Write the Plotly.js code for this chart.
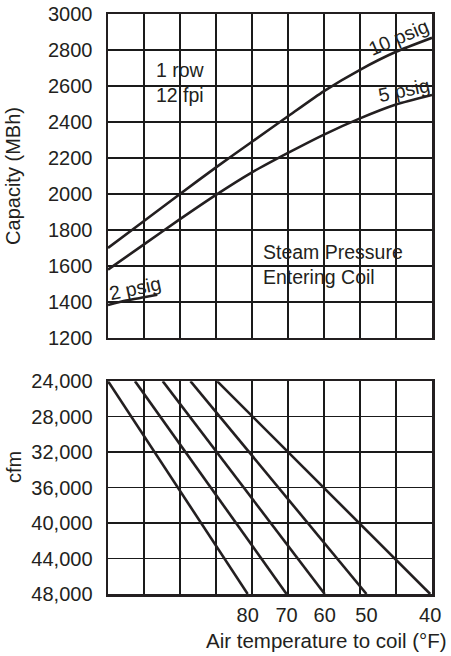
<!DOCTYPE html>
<html>
<head>
<meta charset="utf-8">
<script src="https://cdn.plot.ly/plotly-3.0.1.min.js"></script>
<style>
html,body{margin:0;padding:0;background:#fff;}
#chart{width:451px;height:656px;}
</style>
</head>
<body>
<div id="chart"></div>
<script>
// ---- Top chart: capacity vs. (unlabelled) coil index ----
const gridX = [0, 1, 2, 3, 4, 5, 6, 7, 8, 9];
const cap10psig = [1700, 1850, 2000, 2148, 2290, 2432, 2572, 2690, 2790, 2868];
const cap5psig = [1580, 1720, 1860, 1995, 2120, 2228, 2330, 2420, 2497, 2550];
const cap2psigX = [0, 0.5, 1, 1.37];
const cap2psig = [1383, 1408, 1426, 1440];

// ---- Bottom chart: cfm vs. air temperature lines ----
const tempLabels = ['80', '70', '60', '50', '40'];
const tempStartX = [0, 0.75, 1.52, 2.29, 3.03];
const tempEndX = [3.88, 4.96, 6.02, 7.18, 8.95];
const cfmRange = [24000, 48000];
const cfmTicks = [24000, 28000, 32000, 36000, 40000, 44000, 48000];
const capTicks = [1200, 1400, 1600, 1800, 2000, 2200, 2400, 2600, 2800, 3000];

const ink = '#231f20';
const fontFam = '"Liberation Sans", Arial, Helvetica, sans-serif';
const lineStyle = {color: ink, width: 2.6, shape: 'spline', smoothing: 0.6};

const traces = [
  {x: gridX, y: cap10psig, mode: 'lines', line: lineStyle, xaxis: 'x', yaxis: 'y', hoverinfo: 'skip', name: '10 psig'},
  {x: gridX, y: cap5psig, mode: 'lines', line: lineStyle, xaxis: 'x', yaxis: 'y', hoverinfo: 'skip', name: '5 psig'},
  {x: cap2psigX, y: cap2psig, mode: 'lines', line: lineStyle, xaxis: 'x', yaxis: 'y', hoverinfo: 'skip', name: '2 psig'}
];
tempLabels.forEach((t, i) => {
  traces.push({
    x: [tempStartX[i], tempEndX[i]], y: cfmRange, mode: 'lines',
    line: {color: ink, width: 2.6}, xaxis: 'x2', yaxis: 'y2', hoverinfo: 'skip', name: t + ' °F'
  });
});

const gridCol = '#1a1a1a';
const axBase = {
  showline: true, mirror: true, linecolor: ink, linewidth: 2.5,
  gridcolor: gridCol, gridwidth: 1.6, zeroline: false, fixedrange: true,
  tickfont: {family: fontFam, size: 20, color: ink}
};

const layout = {
  width: 451, height: 656,
  margin: {l: 108, r: 19, t: 14, b: 62},
  paper_bgcolor: '#fff', plot_bgcolor: '#fff',
  showlegend: false,
  font: {family: fontFam, size: 20, color: ink},
  xaxis: Object.assign({}, axBase, {
    domain: [0, 1], anchor: 'y', range: [0, 9], dtick: 1, tick0: 0,
    showticklabels: false, ticks: ''
  }),
  yaxis: Object.assign({}, axBase, {
    domain: [0.4414, 1], anchor: 'x', range: [1200, 3000],
    tickmode: 'array', tickvals: capTicks, ticks: '', ticklabelstandoff: 9,
    title: {text: 'Capacity (MBh)', font: {family: fontFam, size: 20, color: ink}, standoff: 22}
  }),
  xaxis2: Object.assign({}, axBase, {
    domain: [0, 1], anchor: 'y2', range: [0, 9],
    tickmode: 'array', tickvals: tempEndX, ticktext: tempLabels,
    showgrid: false, ticks: '', ticklabelstandoff: 1,
    minor: {tickmode: 'linear', tick0: 0, dtick: 1, showgrid: true, gridcolor: gridCol, gridwidth: 1.6, ticks: ''}
  }),
  yaxis2: Object.assign({}, axBase, {
    domain: [0, 0.367], anchor: 'x2', range: [48000, 24000],
    tickmode: 'array', tickvals: cfmTicks, tickformat: ',d', ticks: '', ticklabelstandoff: 9
  }),
  annotations: [
    {xref: 'x', yref: 'y', x: 1.27, y: 2622, text: '1 row<br>12 fpi', showarrow: false,
     xanchor: 'left', yanchor: 'middle', align: 'left', font: {size: 19.5}},
    {xref: 'x', yref: 'y', x: 4.24, y: 1606, text: 'Steam Pressure<br>Entering Coil', showarrow: false,
     xanchor: 'left', yanchor: 'middle', align: 'left', font: {size: 19.5}},
    {xref: 'x', yref: 'y', x: 8.08, y: 2872, text: '10 psig', showarrow: false, textangle: -23, font: {size: 19.5}},
    {xref: 'x', yref: 'y', x: 8.22, y: 2578, text: '5 psig', showarrow: false, textangle: -12, font: {size: 19.5}},
    {xref: 'x', yref: 'y', x: 0.76, y: 1480, text: '2 psig', showarrow: false, textangle: -12, font: {size: 19.5}},
    {xref: 'paper', yref: 'paper', x: -0.29, y: 0.219, text: 'cfm', showarrow: false,
     textangle: -90, xanchor: 'center', yanchor: 'middle', font: {size: 20}},
    {xref: 'paper', yref: 'paper', x: 1.052, y: -0.081, text: 'Air temperature to coil (°F)', showarrow: false,
     xanchor: 'right', yanchor: 'middle', font: {size: 20.5}}
  ]
};

Plotly.newPlot('chart', traces, layout, {displayModeBar: false, staticPlot: true});
</script>
</body>
</html>
